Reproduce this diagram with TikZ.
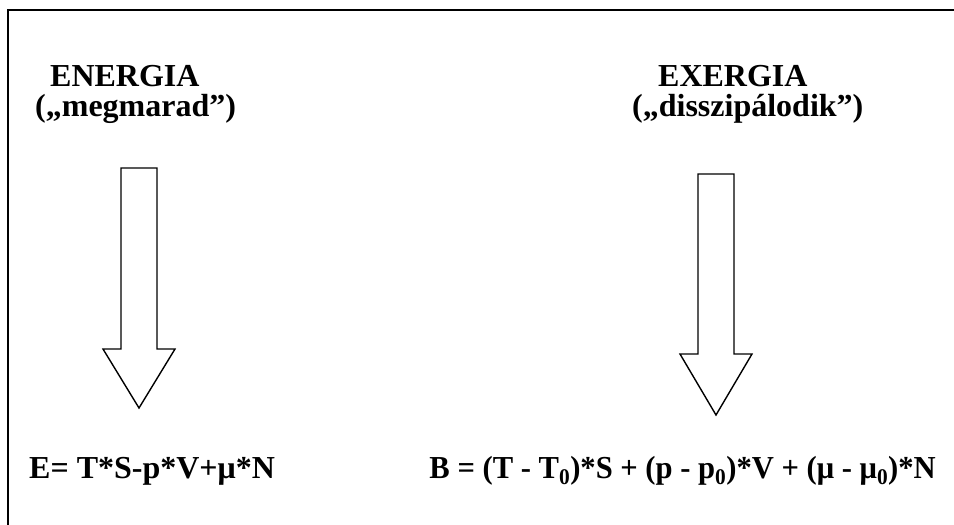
\documentclass[tikz,border=0pt]{standalone}
\usepackage{graphicx}
\usepackage{fontspec}
\setmainfont{Liberation Serif}
\begin{document}
\begin{tikzpicture}[x=1pt,y=-1pt,
  lbl/.style={inner sep=0pt,font=\fontsize{32}{30}\selectfont\bfseries},
  bigarrow/.style={draw=black,line width=1.4pt,fill=white,line join=miter}]
\useasboundingbox (0,0) rectangle (954,525);
\draw[line width=2pt] (8,535) -- (8,10) -- (960,10);
% labels
\node[lbl,align=left,anchor=north west] (en) at (35,65.5) {\hspace*{15pt}ENERGIA\\(„megmarad”)};
\node[lbl,align=left,anchor=north west] (ex) at (632,65.5) {\hspace*{26pt}EXERGIA\\(„disszipálodik”)};
% arrows
\draw[bigarrow] (121,168) -- (157,168) -- (157,349) -- (175,349) -- (139,408) -- (103,349) -- (121,349) -- cycle;
\draw[bigarrow] (698,174) -- (734,174) -- (734,354) -- (752,354) -- (716,415) -- (680,354) -- (698,354) -- cycle;
% formulas
\node[lbl,anchor=base west] (fe) at (29,478) {E= T*S-p*V+μ*N};
\node[lbl,anchor=base east] (fb) at (936,478) {\scalebox{0.956}[1]{B = (T - T\textsubscript{0})*S + (p - p\textsubscript{0})*V + (μ - μ\textsubscript{0})*N}};
\end{tikzpicture}
\end{document}
